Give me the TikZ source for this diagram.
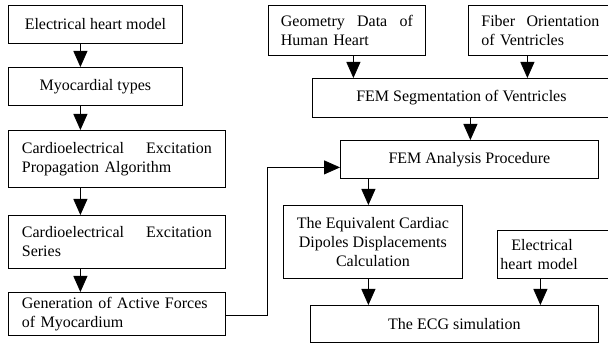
\documentclass[tikz,border=0pt]{standalone}
\usepackage{fontspec}
\setmainfont{Liberation Serif}
\usetikzlibrary{arrows.meta}

\tikzset{
  box/.style={draw, line width=0.8pt, inner sep=0pt, anchor=north west,
    font=\fontsize{16}{19}\selectfont},
  flow/.style={-{Triangle[length=16pt, width=14pt]}, line width=0.8pt}
}

\begin{document}
\begin{tikzpicture}[x=1pt, y=-1pt]
                \useasboundingbox (0,0) rectangle (608,344);
                \clip (0,0) rectangle (608,344);

                % Left column
                \node[box, minimum width=174, minimum height=38, align=center] (ehm) at (8,5) {Electrical heart model};
                \node[box, minimum width=174, minimum height=38, align=center] (myo) at (8,67) {Myocardial types};
                \node[box, minimum width=217, minimum height=57, text width=190, align=left] (cep) at (8,130)
                    {Cardioelectrical\hfill Excitation\\Propagation Algorithm};
                \node[box, minimum width=217, minimum height=53, text width=190, align=left] (ces) at (8,215)
                    {Cardioelectrical\hfill Excitation\\Series};
                \node[box, minimum width=217, minimum height=43, text width=190, align=left] (gen) at (8,292)
                    {Generation of Active Forces\\of Myocardium};

                % Right part
                \node[box, minimum width=157, minimum height=50, text width=132, align=left] (geo) at (268,5)
                    {Geometry\hfill Data\hfill of\\Human Heart};
                \node[box, minimum width=144, minimum height=50, text width=118, align=left] (fib) at (468,5)
                    {Fiber\hfill Orientation\\of Ventricles};
                \node[box, minimum width=298, minimum height=39, align=center] (seg) at (312,78) {FEM Segmentation of Ventricles};
                \node[box, minimum width=258, minimum height=38, align=center] (ana) at (340,140) {FEM Analysis Procedure};
                \node[box, minimum width=179, minimum height=73, align=center] (eqv) at (283,205)
                    {The Equivalent Cardiac\\Dipoles Displacements\\Calculation};
                \node[box, minimum width=115, minimum height=48, text width=109, align=left] (ehmb) at (497,230)
                    {\hspace*{11pt}Electrical\\heart model};
                \node[box, minimum width=288, minimum height=37, align=center] (ecg) at (310,305) {The ECG simulation};

                % Arrows of the left column
                \draw[flow] ([xshift=-15pt]ehm.south) -- ([xshift=-15pt]myo.north);
                \draw[flow] ([xshift=-15pt]myo.south) -- ([xshift=-15pt]myo.south |- cep.north);
                \draw[flow] ([xshift=-36.5pt]cep.south) -- ([xshift=-36.5pt]ces.north);
                \draw[flow] ([xshift=-36.5pt]ces.south) -- ([xshift=-36.5pt]gen.north);

                % Forces into the FEM analysis
                \draw[flow] ([yshift=-2pt]gen.east) -- ++(42,0) |- ([yshift=-8pt]ana.west);

                % Arrows of the right part
                \draw[flow] ([xshift=6.5pt]geo.south) -- ([xshift=6.5pt]geo.south |- seg.north);
                \draw[flow] ([xshift=-13pt]fib.south) -- ([xshift=-13pt]fib.south |- seg.north);
                \draw[flow] ([xshift=9pt]seg.south) -- ([xshift=9pt]seg.south |- ana.north);
                \draw[flow] ([xshift=-4.5pt]eqv.north |- ana.south) -- ([xshift=-4.5pt]eqv.north);
                \draw[flow] ([xshift=-4.5pt]eqv.south) -- ([xshift=-4.5pt]eqv.south |- ecg.north);
                \draw[flow] ([xshift=-14.5pt]ehmb.south) -- ([xshift=-14.5pt]ehmb.south |- ecg.north);
            \end{tikzpicture}
\end{document}
